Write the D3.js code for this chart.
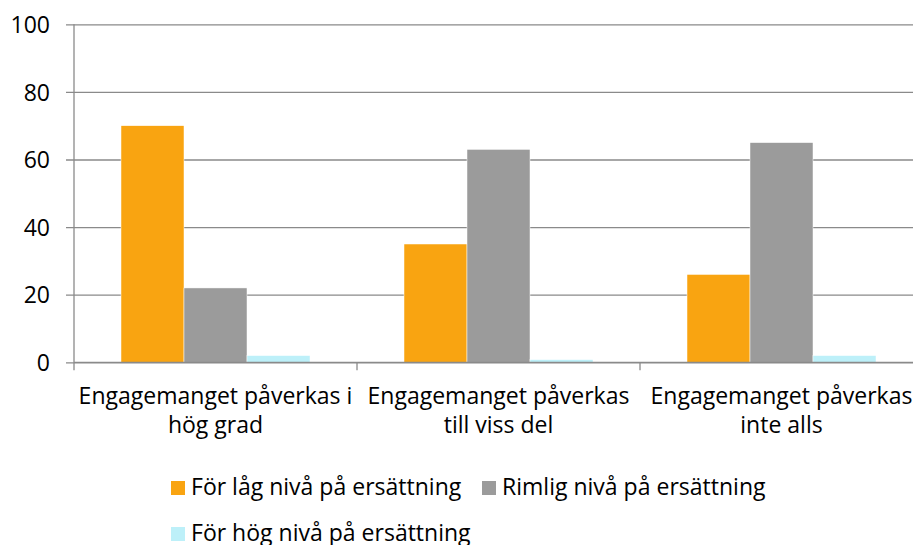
<!DOCTYPE html>
<html>
<head>
<meta charset="utf-8">
<script src="https://cdn.jsdelivr.net/npm/d3@7"></script>
<style>
  body { margin: 0; background: #fff; overflow: hidden; }
  text { font-family: "Open Sans", "Liberation Sans", sans-serif; fill: #000; }
</style>
</head>
<body>
<div id="chart"></div>
<script>
// data
const categories = [
  ["Engagemanget påverkas i", "hög grad"],
  ["Engagemanget påverkas", "till viss del"],
  ["Engagemanget påverkas", "inte alls"]
]
const seriesNames = ["För låg nivå på ersättning", "Rimlig nivå på ersättning", "För hög nivå på ersättning"]
const seriesColors = ["#f9a411", "#9b9b9b", "#bdf0f9"]
const lowValues = [70, 35, 26]
const fairValues = [22, 63, 65]
const highValues = [2, 0.8, 2]
const yTicks = [0, 20, 40, 60, 80, 100]

const allSeries = [lowValues, fairValues, highValues]

const width = 913
const height = 545
const margins = {top: 24.3, left: 74, plotWidth: 849, plotHeight: 338}
const gridColor = "#8a8a8a"

const svg = d3.select("#chart")
  .append("svg")
  .attr("width", width)
  .attr("height", height)

// pick a font size so the first label is about as wide as in the original
const probe = svg.append("text").attr("font-size", 20).text(categories[0][0])
const fontSize = 20 * 274 / probe.node().getComputedTextLength()
probe.remove()

const bounds = svg.append("g")
  .attr("transform", `translate(${margins.left}, ${margins.top})`)

// scales
const xScale = d3.scaleBand()
  .domain(d3.range(categories.length))
  .range([0, margins.plotWidth])

const innerScale = d3.scaleBand()
  .domain(d3.range(seriesNames.length))
  .range([0, xScale.bandwidth()])
  .paddingOuter(0.746)

const yScale = d3.scaleLinear()
  .domain([0, 100])
  .range([margins.plotHeight, 0])

// grid + y axis
const yAxis = bounds.append("g")
  .attr("transform", "translate(-8,0)")
  .call(d3.axisLeft(yScale).tickValues(yTicks).tickSize(-margins.plotWidth - 8).tickPadding(16).tickFormat(d3.format("d")))
yAxis.select(".domain").remove()
yAxis.selectAll(".tick line")
  .attr("stroke", gridColor)
  .attr("stroke-width", 1.3)
yAxis.selectAll(".tick text")
  .attr("font-size", fontSize)
  .attr("fill", "#000")
  .attr("font-family", null)
  .attr("dy", "0.36em")

bounds.append("line")
  .attr("x1", 0).attr("x2", 0)
  .attr("y1", 0).attr("y2", margins.plotHeight)
  .attr("stroke", gridColor)
  .attr("stroke-width", 1.3)

// category ticks
bounds.selectAll("line.cat-tick")
  .data(d3.range(categories.length + 1))
  .join("line")
    .attr("class", "cat-tick")
    .attr("x1", d => d * xScale.bandwidth())
    .attr("x2", d => d * xScale.bandwidth())
    .attr("y1", margins.plotHeight)
    .attr("y2", margins.plotHeight + 8)
    .attr("stroke", gridColor)
    .attr("stroke-width", 1.3)

// bars
const groups = bounds.selectAll("g.group")
  .data(categories)
  .join("g")
    .attr("class", "group")
    .attr("transform", (d, i) => `translate(${xScale(i)},0)`)

groups.selectAll("rect")
  .data((d, i) => allSeries.map((s, j) => ({series: j, value: s[i]})))
  .join("rect")
    .attr("x", d => innerScale(d.series))
    .attr("width", innerScale.bandwidth())
    .attr("y", d => yScale(d.value))
    .attr("height", d => yScale(0) - yScale(d.value))
    .attr("fill", d => seriesColors[d.series])
    .attr("stroke", "#fff")
    .attr("stroke-width", 0.5)

// baseline over the bars
bounds.append("line")
  .attr("x1", 0).attr("x2", margins.plotWidth)
  .attr("y1", yScale(0)).attr("y2", yScale(0))
  .attr("stroke", gridColor)
  .attr("stroke-width", 1.3)

// category labels
groups.each(function(lines) {
  const t = d3.select(this).append("text")
    .attr("text-anchor", "middle")
    .attr("font-size", fontSize)
  lines.forEach((line, k) => {
    t.append("tspan")
      .attr("x", xScale.bandwidth() / 2)
      .attr("y", 404 - margins.top + k * 29)
      .text(line)
  })
})

// legend
const legendItems = [
  {i: 0, x: 171, y: 495},
  {i: 1, x: 482, y: 495},
  {i: 2, x: 171, y: 541}
]
const legend = svg.append("g")
legendItems.forEach(item => {
  legend.append("rect")
    .attr("x", item.x)
    .attr("y", item.y - 14)
    .attr("width", 14)
    .attr("height", 14)
    .attr("fill", seriesColors[item.i])
  legend.append("text")
    .attr("x", item.x + 20)
    .attr("y", item.y)
    .attr("font-size", fontSize)
    .text(seriesNames[item.i])
})
</script>
</body>
</html>
